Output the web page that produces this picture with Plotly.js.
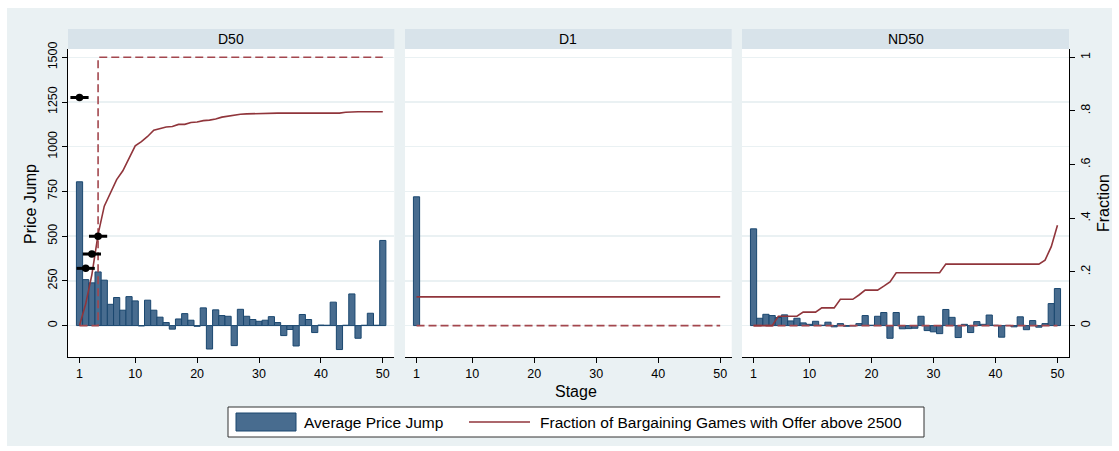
<!DOCTYPE html>
<html><head><meta charset="utf-8">
<script src="https://cdn.plot.ly/plotly-3.0.1.min.js"></script>
<style>
html,body{margin:0;padding:0;background:#ffffff;}
#chart{position:absolute;left:7px;top:8px;width:1105px;height:438px;}
</style>
</head><body><div id="chart"></div>
<script>
// ---------- data ----------
const stages = [1,2,3,4,5,6,7,8,9,10,11,12,13,14,15,16,17,18,19,20,21,22,23,24,25,26,27,28,29,30,31,32,33,34,35,36,37,38,39,40,41,42,43,44,45,46,47,48,49,50];
const panelNames = ["D50","D1","ND50"];
const tickStages = [1,10,20,30,40,50];
const jumpTicks = [0,250,500,750,1000,1250,1500];
const fracTicks = [0,0.2,0.4,0.6,0.8,1];
const fracTickText = ["0",".2",".4",".6",".8","1"];

// D50
const d50Jump = [804,257,239,300,254,119,157,86,162,138,-2,142,86,47,17,-20,37,67,30,-4,99,-131,88,56,52,-112,91,52,34,24,30,50,17,-56,-22,-114,62,34,-39,3,2,131,-134,2,177,-71,2,69,2,476];
const d50Frac = [0,0.081,0.19,0.34,0.445,0.496,0.544,0.577,0.623,0.670,0.686,0.705,0.728,0.734,0.740,0.742,0.750,0.750,0.757,0.759,0.764,0.766,0.770,0.777,0.781,0.784,0.788,0.789,0.790,0.791,0.792,0.792,0.792,0.792,0.792,0.792,0.792,0.792,0.792,0.792,0.792,0.792,0.792,0.795,0.797,0.797,0.797,0.797,0.797,0.797];
const d50Pred = [0,0,0,1,1,1,1,1,1,1,1,1,1,1,1,1,1,1,1,1,1,1,1,1,1,1,1,1,1,1,1,1,1,1,1,1,1,1,1,1,1,1,1,1,1,1,1,1,1,1];
const d50MarkStage = [1,2,3,4];
const d50MarkJump = [1275,320,400,500];

// D1
const d1Stage = [1];
const d1Jump = [720];
const d1Frac = [0.107,0.107,0.107,0.107,0.107,0.107,0.107,0.107,0.107,0.107,0.107,0.107,0.107,0.107,0.107,0.107,0.107,0.107,0.107,0.107,0.107,0.107,0.107,0.107,0.107,0.107,0.107,0.107,0.107,0.107,0.107,0.107,0.107,0.107,0.107,0.107,0.107,0.107,0.107,0.107,0.107,0.107,0.107,0.107,0.107,0.107,0.107,0.107,0.107,0.107];
const d1Pred = [0,0,0,0,0,0,0,0,0,0,0,0,0,0,0,0,0,0,0,0,0,0,0,0,0,0,0,0,0,0,0,0,0,0,0,0,0,0,0,0,0,0,0,0,0,0,0,0,0,0];

// ND50
const nd50Jump = [541,41,63,56,45,60,26,41,15,7,24,2,19,-7,11,-4,-2,11,56,2,52,73,-71,73,-18,-17,-15,52,-28,-35,-45,90,46,-67,7,-39,22,7,59,2,-65,1,-7,49,-23,28,-9,11,123,207];
const nd50Frac = [0,0,0,0,0.035,0.035,0.035,0.035,0.05,0.05,0.05,0.066,0.066,0.066,0.098,0.098,0.098,0.114,0.132,0.132,0.132,0.147,0.163,0.197,0.197,0.197,0.197,0.197,0.197,0.197,0.197,0.229,0.229,0.229,0.229,0.229,0.229,0.229,0.229,0.229,0.229,0.229,0.229,0.229,0.229,0.229,0.229,0.244,0.294,0.374];
const nd50Pred = [0,0,0,0,0,0,0,0,0,0,0,0,0,0,0,0,0,0,0,0,0,0,0,0,0,0,0,0,0,0,0,0,0,0,0,0,0,0,0,0,0,0,0,0,0,0,0,0,0,0];

const legendLabels = ["Average Price Jump","Fraction of Bargaining Games with Offer above 2500"];

// ---------- styles ----------
const FONT = "Liberation Sans, Arial, Helvetica, sans-serif";
const barFill = "#486C8F", barLine = "#1A476F";
const red = "#90353B", redDash = "#A3474E";
const bg = "#EAF1F3", strip = "#D8E3EA", grid = "#EAF1F3";

// pixel -> paper helpers (original image pixel coordinates)
const W = 1105, H = 438, ML = 61, MR = 43, MT = 41, MB = 89;
const PW = W - ML - MR, PH = H - MT - MB;
const px = x => (x - 7 - ML) / PW;
const py = y => (H - MB - (y - 8)) / PH;

const jumpRange = [-175.7, 1546.5];
const fracRange = [-175.7/1500, 1546.5/1500];
const xRange = [-0.86, 51.86];

function barTrace(x, y, xa, ya) {
  return {type:"bar", x:x, y:y, xaxis:xa, yaxis:ya, width:1,
    marker:{color:barFill, line:{color:barLine, width:1}}, showlegend:false, hoverinfo:"x+y"};
}
function lineTrace(y, xa, ya, dashed) {
  return {type:"scatter", mode:"lines", x:stages, y:y, xaxis:xa, yaxis:ya,
    line: dashed ? {color:redDash, width:1.6, dash:"8px,4px", shape:"hv"} : {color:red, width:1.6},
    showlegend:false};
}

const traces = [
  barTrace(stages, d50Jump, "x", "y"),
  lineTrace(d50Pred, "x", "y2", true),
  lineTrace(d50Frac, "x", "y2", false),
  {type:"scatter", mode:"markers", x:d50MarkStage, y:d50MarkJump, xaxis:"x", yaxis:"y7",
    marker:{symbol:"line-ew", size:13, line:{color:"#000", width:3}}, showlegend:false},
  {type:"scatter", mode:"markers", x:d50MarkStage, y:d50MarkJump, xaxis:"x", yaxis:"y7",
    marker:{symbol:"circle", size:7.5, color:"#000"}, showlegend:false},
  barTrace(d1Stage, d1Jump, "x2", "y3"),
  lineTrace(d1Pred, "x2", "y4", true),
  lineTrace(d1Frac, "x2", "y4", false),
  barTrace(stages, nd50Jump, "x3", "y5"),
  lineTrace(nd50Pred, "x3", "y6", true),
  lineTrace(nd50Frac, "x3", "y6", false)
];

const tickFont = {family:FONT, size:12.5, color:"#000"};
function xAxis(domain, anchor) {
  return {domain:domain, anchor:anchor, range:xRange, tickvals:tickStages, ticks:"outside", ticklen:5,
    tickcolor:"#000", tickwidth:1, showline:true, linecolor:"#000", linewidth:1, showgrid:false,
    zeroline:false, tickfont:tickFont, fixedrange:true};
}
function yMain(anchor, labels) {
  const a = {anchor:anchor, range:jumpRange, tickvals:jumpTicks, showgrid:true, gridcolor:grid, gridwidth:1.5,
    zeroline:false, fixedrange:true};
  if (labels) {
    Object.assign(a, {showline:true, linecolor:"#000", linewidth:1, ticks:"outside", ticklen:5, tickcolor:"#000",
      tickangle:-90, tickfont:tickFont});
  } else {
    Object.assign(a, {showticklabels:false, ticks:""});
  }
  return a;
}
function yFrac(over, anchor) {
  return {overlaying:over, anchor:anchor, range:fracRange, visible:false, fixedrange:true};
}

const dom1 = [0, px(394.3)], dom2 = [px(405), px(731.7)], dom3 = [px(742), 1];

const shapes = [], annotations = [];
["x","x2","x3"].forEach((xa, i) => {
  shapes.push({type:"rect", xref:xa + " domain", yref:"paper", x0:0, x1:1, y0:1, y1:py(29),
    fillcolor:strip, line:{width:0}});
  annotations.push({xref:xa + " domain", yref:"paper", x:0.5, y:py(39), text:panelNames[i],
    showarrow:false, xanchor:"center", yanchor:"middle", font:{family:FONT, size:14, color:"#000"}});
});

// axis titles
annotations.push({xref:"paper", yref:"paper", x:px(576), y:py(392), text:"Stage", showarrow:false,
  xanchor:"center", yanchor:"middle", font:{family:FONT, size:16, color:"#000"}});
annotations.push({xref:"paper", yref:"paper", x:px(30), y:py(204), text:"Price Jump", textangle:-90, showarrow:false,
  xanchor:"center", yanchor:"middle", font:{family:FONT, size:16, color:"#000"}});
annotations.push({xref:"paper", yref:"paper", x:px(1103), y:py(203), text:"Fraction", textangle:-90, showarrow:false,
  xanchor:"center", yanchor:"middle", font:{family:FONT, size:16, color:"#000"}});

// legend
shapes.push({type:"rect", xref:"paper", yref:"paper", x0:px(228), x1:px(924), y0:py(437), y1:py(407),
  fillcolor:"#ffffff", line:{color:"#333", width:1}});
shapes.push({type:"rect", xref:"paper", yref:"paper", x0:px(236), x1:px(296), y0:py(431), y1:py(413),
  fillcolor:barFill, line:{color:barLine, width:1}});
shapes.push({type:"line", xref:"paper", yref:"paper", x0:px(469), x1:px(530), y0:py(422), y1:py(422),
  line:{color:red, width:1.6}});
annotations.push({xref:"paper", yref:"paper", x:px(302), y:py(422), text:legendLabels[0], showarrow:false,
  xanchor:"left", yanchor:"middle", font:{family:FONT, size:15.5, color:"#000"}});
annotations.push({xref:"paper", yref:"paper", x:px(538), y:py(422), text:legendLabels[1], showarrow:false,
  xanchor:"left", yanchor:"middle", font:{family:FONT, size:15.5, color:"#000"}});

const layout = {
  width:W, height:H, margin:{l:ML, r:MR, t:MT, b:MB, pad:0},
  paper_bgcolor:bg, plot_bgcolor:"#ffffff", showlegend:false, bargap:0,
  font:{family:FONT, color:"#000"},
  xaxis:xAxis(dom1, "y"),
  xaxis2:xAxis(dom2, "y3"),
  xaxis3:xAxis(dom3, "y5"),
  yaxis:yMain("x", true),
  yaxis2:yFrac("y", "x"),
  yaxis3:yMain("x2", false),
  yaxis4:yFrac("y3", "x2"),
  yaxis5:yMain("x3", false),
  yaxis6:{overlaying:"y5", anchor:"x3", side:"right", range:fracRange, tickvals:fracTicks, ticktext:fracTickText,
    showline:true, linecolor:"#000", linewidth:1, ticks:"outside", ticklen:5, tickcolor:"#000",
    tickangle:-90, tickfont:tickFont, showgrid:false, zeroline:false, fixedrange:true},
  yaxis7:{overlaying:"y", anchor:"x", range:jumpRange, visible:false, fixedrange:true},
  shapes:shapes, annotations:annotations
};

Plotly.newPlot("chart", traces, layout, {displayModeBar:false, staticPlot:true});
</script></body></html>
